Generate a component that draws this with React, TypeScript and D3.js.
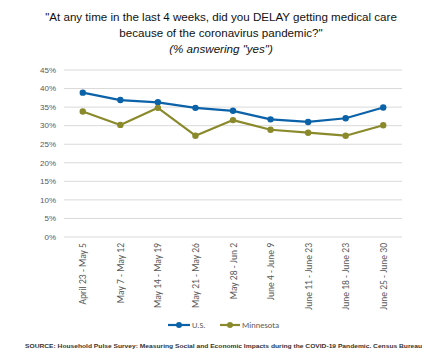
import * as d3 from "d3";

const categories = [
  "April 23 - May 5",
  "May 7 - May 12",
  "May 14 - May 19",
  "May 21 - May 26",
  "May 28 - Jun 2",
  "June 4 - June 9",
  "June 11 - June 23",
  "June 18 - June 23",
  "June 25 - June 30",
];
const usValues = [38.9, 36.9, 36.3, 34.8, 34.0, 31.7, 31.0, 32.0, 34.9];
const mnValues = [33.8, 30.2, 34.8, 27.3, 31.5, 28.9, 28.1, 27.3, 30.1];
const yTicks = [0, 5, 10, 15, 20, 25, 30, 35, 40, 45];

const series = [
  { name: "U.S.", values: usValues, color: "#0b62a8" },
  { name: "Minnesota", values: mnValues, color: "#8a8a2c" },
];

const W = 440;
const H = 358;
const plot = { left: 64, right: 402, top: 70, bottom: 237 };

export default function App() {
  const x = d3.scaleBand().domain(categories).range([plot.left, plot.right]);
  const y = d3.scaleLinear().domain([0, 45]).range([plot.bottom, plot.top]);
  const line = d3
    .line<number>()
    .x((_, i) => x(categories[i])! + x.bandwidth() / 2)
    .y((d) => y(d));

  return (
    <svg
      width={W}
      height={H}
      style={{ position: "absolute", left: 0, top: 0, background: "#fff" }}
      fontFamily="Arial, 'Liberation Sans', sans-serif"
    >
      <g textAnchor="middle" fill="#111" fontSize={11.6}>
        <text x={221} y={21}>
          "At any time in the last 4 weeks, did you DELAY getting medical care
        </text>
        <text x={221} y={37}>because of the coronavirus pandemic?"</text>
        <text x={221} y={53} fontStyle="italic">
          (% answering "yes")
        </text>
      </g>

      {yTicks.map((t) => (
        <g key={t}>
          <line
            x1={plot.left}
            x2={plot.right}
            y1={y(t)}
            y2={y(t)}
            stroke="#d9d9d9"
            strokeWidth={1}
          />
          <text
            x={56}
            y={y(t)}
            dy="0.35em"
            textAnchor="end"
            fontSize={8}
            fill="#595959"
          >
            {t}%
          </text>
        </g>
      ))}

      {categories.map((c) => {
        const cx = x(c)! + x.bandwidth() / 2;
        return (
          <text
            key={c}
            transform={`translate(${cx + 3.5},243) rotate(-90)`}
            textAnchor="end"
            fontSize={9.6}
            fill="#595959"
            fontFamily="Calibri, Carlito, 'Open Sans', sans-serif"
          >
            {c}
          </text>
        );
      })}

      {series.map((s) => (
        <g key={s.name}>
          <path
            d={line(s.values) || ""}
            fill="none"
            stroke={s.color}
            strokeWidth={2.2}
            strokeLinejoin="round"
          />
          {s.values.map((v, i) => (
            <circle
              key={i}
              cx={x(categories[i])! + x.bandwidth() / 2}
              cy={y(v)}
              r={3.2}
              fill={s.color}
            />
          ))}
        </g>
      ))}

      <g fontSize={8.5} fill="#595959" fontFamily="Calibri, Carlito, 'Open Sans', sans-serif">
        <line x1={168} x2={190} y1={325} y2={325} stroke={series[0].color} strokeWidth={2.2} />
        <circle cx={179} cy={325} r={3} fill={series[0].color} />
        <text x={192} y={325} dy="0.35em">
          {series[0].name}
        </text>
        <line x1={220} x2={240} y1={325} y2={325} stroke={series[1].color} strokeWidth={2.2} />
        <circle cx={230} cy={325} r={3} fill={series[1].color} />
        <text x={242} y={325} dy="0.35em">
          {series[1].name}
        </text>
      </g>

      <text
        x={25}
        y={348}
        fontSize={6}
        fontWeight="bold"
        fill="#333"
        textLength={397}
        lengthAdjust="spacingAndGlyphs"
      >
        SOURCE: Household Pulse Survey: Measuring Social and Economic Impacts during the COVID-19 Pandemic. Census Bureau
      </text>
    </svg>
  );
}
